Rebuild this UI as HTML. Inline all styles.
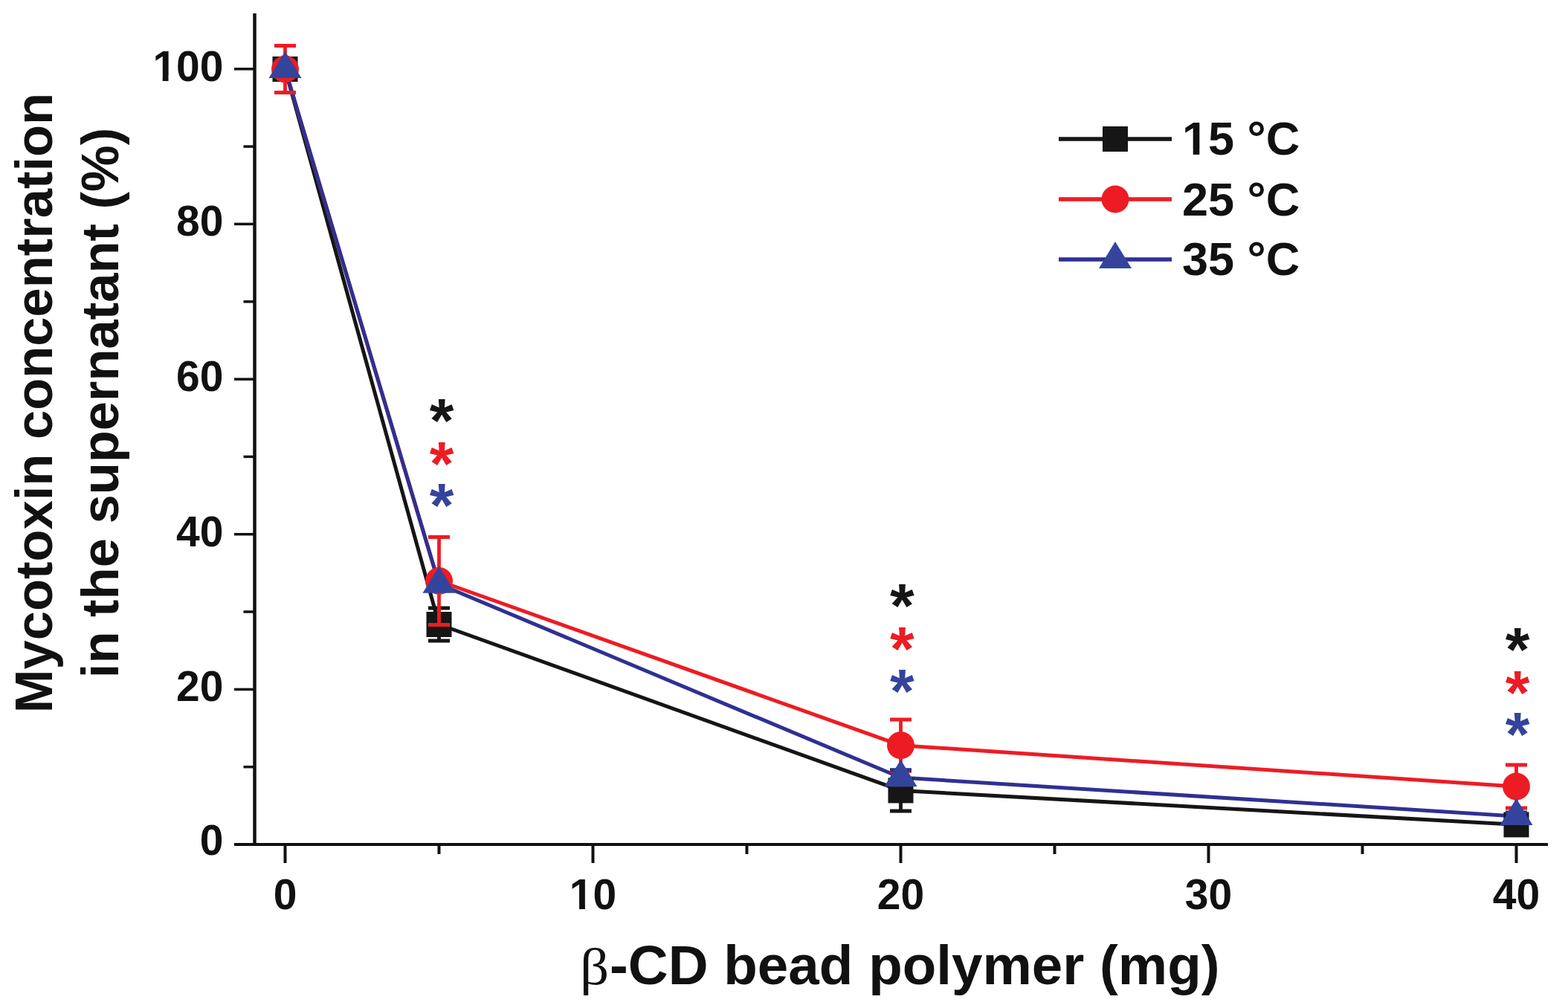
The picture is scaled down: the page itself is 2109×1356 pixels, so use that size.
<!DOCTYPE html>
<html><head><meta charset="utf-8"><title>Mycotoxin concentration vs beta-CD bead polymer</title>
<style>
html,body{margin:0;padding:0;background:#fff;}
svg{display:block;}
.t{font-family:"Liberation Sans",Arial,sans-serif;font-weight:bold;fill:#111;}
</style></head><body>
<svg width="2109" height="1356" viewBox="0 0 2109 1356">
<rect width="2109" height="1356" fill="#fff"/>
<path d="M342.5 18V1136" stroke="#111" stroke-width="4.5" fill="none"/>
<path d="M315 1136H2082" stroke="#111" stroke-width="4" fill="none"/>
<path d="M315 1136.0H342" stroke="#111" stroke-width="3.5"/>
<path d="M327.5 1031.7H342" stroke="#111" stroke-width="3.5"/>
<path d="M315 927.4H342" stroke="#111" stroke-width="3.5"/>
<path d="M327.5 823.0H342" stroke="#111" stroke-width="3.5"/>
<path d="M315 718.7H342" stroke="#111" stroke-width="3.5"/>
<path d="M327.5 614.4H342" stroke="#111" stroke-width="3.5"/>
<path d="M315 510.1H342" stroke="#111" stroke-width="3.5"/>
<path d="M327.5 405.8H342" stroke="#111" stroke-width="3.5"/>
<path d="M315 301.4H342" stroke="#111" stroke-width="3.5"/>
<path d="M327.5 197.1H342" stroke="#111" stroke-width="3.5"/>
<path d="M315 92.8H342" stroke="#111" stroke-width="3.5"/>
<path d="M383.5 1136V1161" stroke="#111" stroke-width="4"/>
<path d="M590.5 1136V1149" stroke="#111" stroke-width="4"/>
<path d="M797.5 1136V1161" stroke="#111" stroke-width="4"/>
<path d="M1004.5 1136V1149" stroke="#111" stroke-width="4"/>
<path d="M1211.5 1136V1161" stroke="#111" stroke-width="4"/>
<path d="M1418.5 1136V1149" stroke="#111" stroke-width="4"/>
<path d="M1625.5 1136V1161" stroke="#111" stroke-width="4"/>
<path d="M1832.5 1136V1149" stroke="#111" stroke-width="4"/>
<path d="M2039.5 1136V1161" stroke="#111" stroke-width="4"/>
<text x="300.5" y="1150.3" text-anchor="end" class="t" font-size="57">0</text>
<text x="300.5" y="943.2" text-anchor="end" class="t" font-size="57">20</text>
<text x="300.5" y="734.5" text-anchor="end" class="t" font-size="57">40</text>
<text x="300.5" y="525.9" text-anchor="end" class="t" font-size="57">60</text>
<text x="300.5" y="317.2" text-anchor="end" class="t" font-size="57">80</text>
<text x="300.5" y="108.6" text-anchor="end" class="t" font-size="57">100</text>
<rect x="207.79" y="102.18" width="10.91" height="7.02" fill="#fff"/><rect x="226.52" y="102.18" width="10.19" height="7.02" fill="#fff"/>
<text x="383.5" y="1222.8" text-anchor="middle" class="t" font-size="57">0</text>
<text x="797.5" y="1222.8" text-anchor="middle" class="t" font-size="57">10</text>
<rect x="768.19" y="1216.38" width="10.91" height="7.02" fill="#fff"/><rect x="786.92" y="1216.38" width="10.19" height="7.02" fill="#fff"/>
<text x="1211.5" y="1222.8" text-anchor="middle" class="t" font-size="57">20</text>
<text x="1625.5" y="1222.8" text-anchor="middle" class="t" font-size="57">30</text>
<text x="2039.5" y="1222.8" text-anchor="middle" class="t" font-size="57">40</text>
<text transform="translate(780,1324) scale(1.1,1)" style="font-family:'Liberation Serif',serif;fill:#111" font-size="70">β</text>
<text x="820" y="1324" class="t" font-size="74.6">-CD bead polymer (mg)</text>
<text transform="translate(70,542) rotate(-90)" text-anchor="middle" class="t" font-size="70.5">Mycotoxin concentration</text>
<text transform="translate(159,542) rotate(-90)" text-anchor="middle" class="t" font-size="70.5">in the supernatant (%)</text>
<path d="M383.5 93.0L590.5 840.0L1211.5 1063.4L2039.5 1109.4" stroke="#161616" stroke-width="5.0" fill="none" stroke-linejoin="round"/>
<path d="M383.5 93.0L590.5 785.8M590.5 781.5L1211.5 1002.7L2039.5 1058.0" stroke="#ED1C24" stroke-width="5.0" fill="none" stroke-linejoin="round"/>
<path d="M383.5 93.0L590.5 785.8L1211.5 1046.0L2039.5 1098.0" stroke="#2E3192" stroke-width="5.0" fill="none" stroke-linejoin="round"/>
<path d="M590.5 818.0V862.0M576.0 818.0H605.0M576.0 862.0H605.0" stroke="#161616" stroke-width="4.8" fill="none"/>
<path d="M1211.5 1035.8V1091.0M1197.0 1035.8H1226.0M1197.0 1091.0H1226.0" stroke="#161616" stroke-width="4.8" fill="none"/>
<rect x="366.5" y="76.0" width="34" height="34" fill="#161616"/>
<rect x="573.5" y="823.0" width="34" height="34" fill="#161616"/>
<rect x="1194.5" y="1046.4" width="34" height="34" fill="#161616"/>
<rect x="2022.5" y="1092.4" width="34" height="34" fill="#161616"/>
<path d="M383.5 61.5V124.5M369.0 61.5H398.0M369.0 124.5H398.0" stroke="#ED1C24" stroke-width="4.8" fill="none"/>
<path d="M590.5 722.5V840.5M576.0 722.5H605.0M576.0 840.5H605.0" stroke="#ED1C24" stroke-width="4.8" fill="none"/>
<path d="M1211.5 968.0V1037.4M1197.0 968.0H1226.0M1197.0 1037.4H1226.0" stroke="#ED1C24" stroke-width="4.8" fill="none"/>
<path d="M2039.5 1029.0V1087.0M2025.0 1029.0H2054.0M2025.0 1087.0H2054.0" stroke="#ED1C24" stroke-width="4.8" fill="none"/>
<circle cx="383.5" cy="93.0" r="18.5" fill="#ED1C24"/>
<circle cx="590.5" cy="781.5" r="18.5" fill="#ED1C24"/>
<circle cx="1211.5" cy="1002.7" r="18.5" fill="#ED1C24"/>
<circle cx="2039.5" cy="1058.0" r="18.5" fill="#ED1C24"/>
<path d="M1211.5 1036.0V1056.0M1197.0 1036.0H1226.0M1197.0 1056.0H1226.0" stroke="#2E3192" stroke-width="4.8" fill="none"/>
<path d="M2039.5 1093.0V1103.0M2025.0 1093.0H2054.0M2025.0 1103.0H2054.0" stroke="#2E3192" stroke-width="4.8" fill="none"/>
<polygon points="383.5,69.0 361.5,105.0 405.5,105.0" fill="#34449C"/>
<polygon points="590.5,761.8 568.5,797.8 612.5,797.8" fill="#34449C"/>
<polygon points="1211.5,1022.0 1189.5,1058.0 1233.5,1058.0" fill="#34449C"/>
<polygon points="2039.5,1074.0 2017.5,1110.0 2061.5,1110.0" fill="#34449C"/>
<text x="594.0" y="595.0" text-anchor="middle" class="t" font-size="84" style="fill:#161616">*</text>
<text x="594.0" y="653.0" text-anchor="middle" class="t" font-size="84" style="fill:#ED1C24">*</text>
<text x="594.0" y="709.0" text-anchor="middle" class="t" font-size="84" style="fill:#34449C">*</text>
<text x="1213.4" y="844.0" text-anchor="middle" class="t" font-size="84" style="fill:#161616">*</text>
<text x="1213.4" y="902.0" text-anchor="middle" class="t" font-size="84" style="fill:#ED1C24">*</text>
<text x="1213.4" y="958.5" text-anchor="middle" class="t" font-size="84" style="fill:#34449C">*</text>
<text x="2041.0" y="902.5" text-anchor="middle" class="t" font-size="84" style="fill:#161616">*</text>
<text x="2041.0" y="961.0" text-anchor="middle" class="t" font-size="84" style="fill:#ED1C24">*</text>
<text x="2041.0" y="1017.0" text-anchor="middle" class="t" font-size="84" style="fill:#34449C">*</text>
<path d="M1424 187H1576" stroke="#161616" stroke-width="5.5"/>
<rect x="1483.0" y="170.0" width="34" height="34" fill="#161616"/>
<text x="1590" y="208" class="t" font-size="63">15 °C</text>
<rect x="1592.77" y="200.97" width="11.94" height="7.63" fill="#fff"/><rect x="1613.35" y="200.97" width="11.14" height="7.63" fill="#fff"/>
<path d="M1424 268H1576" stroke="#ED1C24" stroke-width="5.5"/>
<circle cx="1500.0" cy="268.0" r="18.5" fill="#ED1C24"/>
<text x="1590" y="289.5" class="t" font-size="63">25 °C</text>
<path d="M1424 349H1576" stroke="#2E3192" stroke-width="5.5"/>
<polygon points="1500.0,325.0 1478.0,361.0 1522.0,361.0" fill="#34449C"/>
<text x="1590" y="370" class="t" font-size="63">35 °C</text>
</svg>
</body></html>
